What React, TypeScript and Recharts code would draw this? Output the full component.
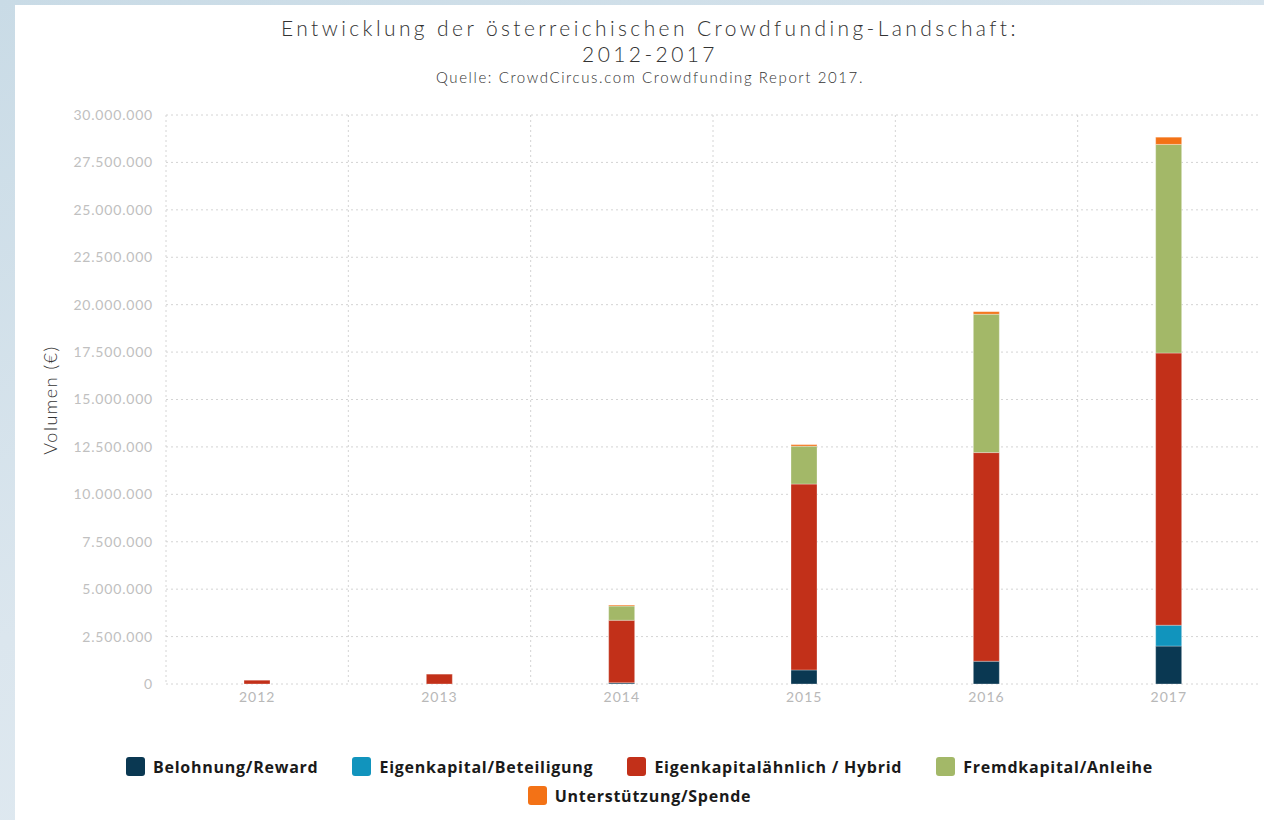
import React from "react";
import { BarChart, Bar, XAxis, YAxis, CartesianGrid } from "recharts";

const years = ["2012", "2013", "2014", "2015", "2016", "2017"];

const reward = [0, 0, 60000, 740000, 1200000, 2000000];
const equity = [0, 0, 0, 0, 0, 1100000];
const hybrid = [200000, 520000, 3300000, 9800000, 11000000, 14350000];
const debt = [0, 0, 750000, 2000000, 7300000, 11000000];
const donation = [0, 0, 50000, 80000, 130000, 380000];

const yTicks = [0, 2500000, 5000000, 7500000, 10000000, 12500000, 15000000, 17500000, 20000000, 22500000, 25000000, 27500000, 30000000];

const series = [
    { key: "reward", name: "Belohnung/Reward", color: "#0a3852" },
    { key: "equity", name: "Eigenkapital/Beteiligung", color: "#1194bd" },
    { key: "hybrid", name: "Eigenkapitalähnlich / Hybrid", color: "#c23019" },
    { key: "debt", name: "Fremdkapital/Anleihe", color: "#a3b868" },
    { key: "donation", name: "Unterstützung/Spende", color: "#f37216" },
];

const data = years.map((year, i) => ({
    year,
    reward: reward[i],
    equity: equity[i],
    hybrid: hybrid[i],
    debt: debt[i],
    donation: donation[i],
}));

const formatNumber = (n: number) => String(n).replace(/\B(?=(\d{3})+(?!\d))/g, ".");

const ChartLegend = () => (
    <div
        style={{
            position: "absolute",
            left: 0,
            top: 752,
            width: 1249,
            display: "flex",
            justifyContent: "center",
        }}
    >
        <div
            style={{
                display: "flex",
                flexWrap: "wrap",
                justifyContent: "center",
                width: 1100,
                rowGap: 10,
                columnGap: 34,
            }}
        >
            {series.map((s) => (
                <div key={s.key} style={{ display: "flex", alignItems: "center", height: 19 }}>
                    <span
                        style={{
                            display: "inline-block",
                            width: 19,
                            height: 19,
                            borderRadius: 3,
                            background: s.color,
                            marginRight: 8,
                        }}
                    />
                    <span
                        style={{
                            fontFamily: "'Open Sans', sans-serif",
                            fontWeight: 700,
                            fontSize: 16,
                            letterSpacing: 0.75,
                            color: "#1a1a1a",
                        }}
                    >
                        {s.name}
                    </span>
                </div>
            ))}
        </div>
    </div>
);

const titleStyle: React.CSSProperties = {
    position: "absolute",
    left: 0,
    width: 1270,
    textAlign: "center",
    fontSize: 21,
    fontWeight: 300,
    letterSpacing: 3.4,
    lineHeight: "24px",
    color: "#333",
    whiteSpace: "nowrap",
};

const App: React.FC = () => {
    return (
        <div
            style={{
                position: "fixed",
                left: 0,
                top: 0,
                width: 1264,
                height: 820,
                background: "linear-gradient(160deg, #c9dbe6 0%, #dbe6ee 50%, #e4edf3 100%)",
                overflow: "hidden",
            }}
        >
            <div
                style={{
                    position: "absolute",
                    left: 15,
                    top: 5,
                    width: 1249,
                    height: 815,
                    background: "#fff",
                    fontFamily: "Lato, sans-serif",
                }}
            >
                <div style={{ ...titleStyle, top: 11 }}>
                    Entwicklung der österreichischen Crowdfunding-Landschaft:
                </div>
                <div style={{ ...titleStyle, top: 37 }}>2012-2017</div>
                <div
                    style={{
                        position: "absolute",
                        left: 0,
                        width: 1270,
                        top: 63,
                        textAlign: "center",
                        fontSize: 15,
                        lineHeight: "18px",
                        fontWeight: 300,
                        letterSpacing: 1.6,
                        color: "#333",
                        whiteSpace: "nowrap",
                    }}
                >
                    Quelle: CrowdCircus.com Crowdfunding Report 2017.
                </div>
                <div
                    style={{
                        position: "absolute",
                        left: 35,
                        top: 395,
                        transform: "translate(-50%, -50%) rotate(-90deg)",
                        fontSize: 18,
                        fontWeight: 300,
                        letterSpacing: 1.5,
                        color: "#333",
                        whiteSpace: "nowrap",
                    }}
                >
                    Volumen (€)
                </div>
                <BarChart
                    width={1249}
                    height={815}
                    data={data}
                    margin={{ top: 110, right: 4, bottom: 106, left: 40 }}
                    style={{ position: "absolute", left: 0, top: 0 }}
                >
                    <CartesianGrid
                        stroke="#d4d4d4"
                        strokeDasharray="2 3"
                        verticalCoordinatesGenerator={({ offset }: any) =>
                            years.map((_, i) => offset.left + (i * offset.width) / years.length)
                        }
                    />
                    <XAxis
                        dataKey="year"
                        height={30}
                        axisLine={false}
                        tickLine={false}
                        tick={{ fill: "#b8b8b8", fontSize: 14, letterSpacing: 1 }}
                    />
                    <YAxis
                        width={111}
                        domain={[0, 30000000]}
                        ticks={yTicks}
                        tickFormatter={formatNumber}
                        axisLine={false}
                        tickLine={false}
                        tickMargin={7}
                        tick={{ fill: "#c0c0c0", fontSize: 14, letterSpacing: 0.8 }}
                        interval={0}
                    />
                    {series.map((s) => (
                        <Bar
                            key={s.key}
                            dataKey={s.key}
                            name={s.name}
                            stackId="a"
                            fill={s.color}
                            stroke="#ffffff"
                            strokeOpacity={0.5}
                            strokeWidth={0.6}
                            barSize={26}
                            isAnimationActive={false}
                        />
                    ))}
                </BarChart>
                <ChartLegend />
            </div>
        </div>
    );
};

export default App;
